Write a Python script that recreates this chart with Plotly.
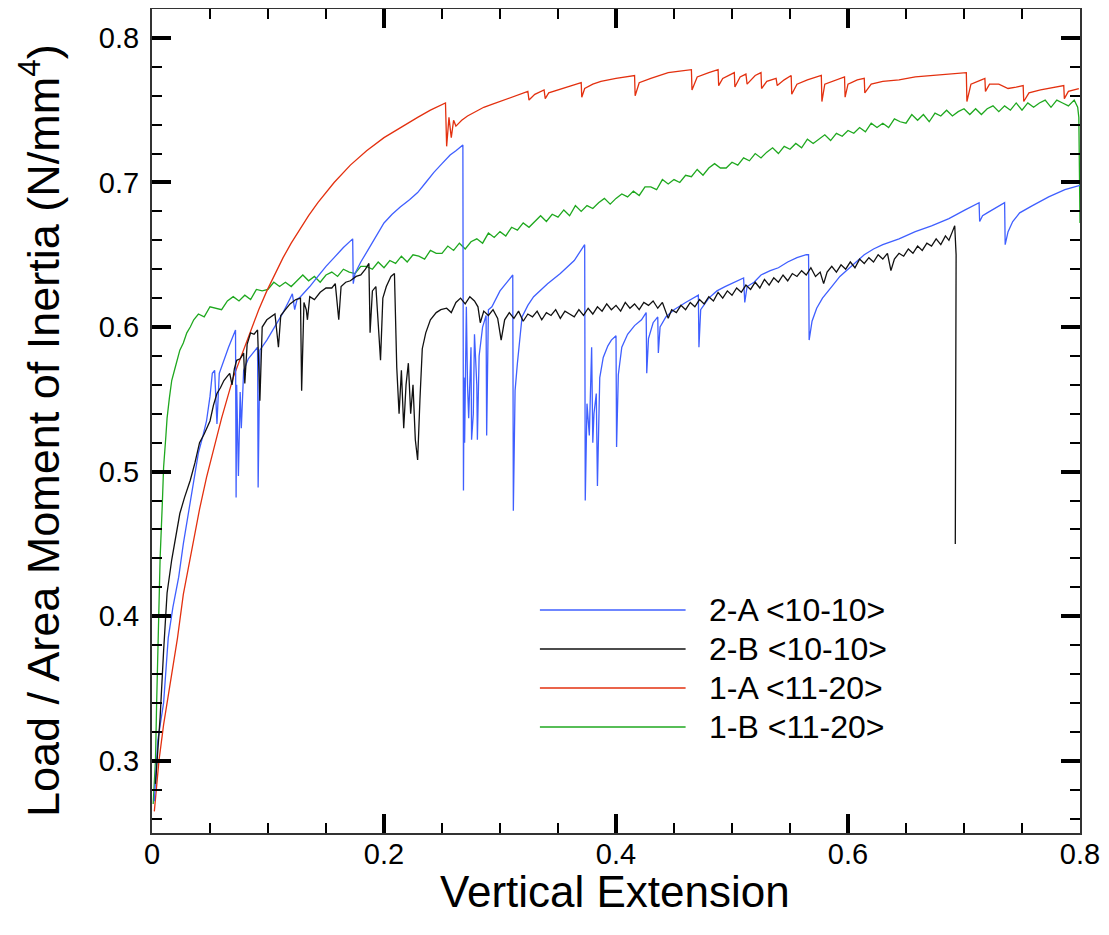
import plotly.graph_objects as go

# ---------------- data ----------------
names = ["2-A <10-10>", "2-B <10-10>", "1-A <11-20>", "1-B <11-20>"]
colors = ["#3f5fff", "#111111", "#e3300f", "#1fa81f"]

blue_x = [0.002, 0.005, 0.010, 0.014, 0.018, 0.023, 0.027, 0.033, 0.040, 0.044, 0.047, 0.050, 0.052, 0.054,
          0.056, 0.058, 0.061, 0.066, 0.072, 0.0725, 0.073, 0.0745, 0.076, 0.077, 0.079, 0.083, 0.088, 0.091,
          0.0915, 0.093, 0.099, 0.108, 0.113, 0.118, 0.121, 0.123, 0.125, 0.128, 0.136, 0.143, 0.150, 0.157,
          0.165, 0.173, 0.1735, 0.175, 0.180, 0.186, 0.193, 0.200, 0.207, 0.214, 0.222, 0.229, 0.236, 0.243,
          0.250, 0.257, 0.262, 0.268, 0.2685, 0.269, 0.2695, 0.271, 0.272, 0.273, 0.275, 0.2755, 0.277, 0.278,
          0.280, 0.2805, 0.282, 0.285, 0.288, 0.2885, 0.290, 0.293, 0.300, 0.306, 0.311, 0.3115, 0.313, 0.315,
          0.319, 0.324, 0.329, 0.341, 0.352, 0.364, 0.373, 0.3735, 0.375, 0.377, 0.379, 0.380, 0.381, 0.383,
          0.384, 0.386, 0.389, 0.393, 0.396, 0.400, 0.4005, 0.402, 0.405, 0.410, 0.416, 0.422, 0.426, 0.4265,
          0.428, 0.432, 0.436, 0.4365, 0.438, 0.443, 0.450, 0.460, 0.468, 0.471, 0.4715, 0.473, 0.480, 0.487,
          0.494, 0.505, 0.510, 0.511, 0.513, 0.519, 0.525, 0.533, 0.540, 0.548, 0.556, 0.564, 0.566, 0.5665,
          0.569, 0.573, 0.578, 0.586, 0.593, 0.600, 0.607, 0.614, 0.622, 0.630, 0.644, 0.658, 0.672, 0.687,
          0.701, 0.713, 0.7135, 0.716, 0.720, 0.728, 0.735, 0.7355, 0.738, 0.742, 0.748, 0.759, 0.773, 0.787,
          0.800]
blue_y = [0.272, 0.314, 0.340, 0.385, 0.406, 0.427, 0.450, 0.480, 0.513, 0.525, 0.535, 0.552, 0.568, 0.570,
          0.533, 0.568, 0.575, 0.586, 0.598, 0.482, 0.560, 0.497, 0.555, 0.530, 0.570, 0.578, 0.583, 0.586,
          0.489, 0.584, 0.591, 0.603, 0.610, 0.618, 0.623, 0.612, 0.619, 0.621, 0.628, 0.635, 0.642, 0.648,
          0.655, 0.661, 0.630, 0.637, 0.645, 0.653, 0.663, 0.672, 0.678, 0.683, 0.688, 0.693, 0.700, 0.707,
          0.713, 0.719, 0.722, 0.726, 0.487, 0.565, 0.520, 0.614, 0.560, 0.537, 0.586, 0.522, 0.540, 0.595,
          0.560, 0.522, 0.580, 0.600, 0.608, 0.525, 0.612, 0.614, 0.625, 0.631, 0.636, 0.473, 0.556, 0.575,
          0.607, 0.615, 0.621, 0.630, 0.637, 0.646, 0.657, 0.480, 0.547, 0.525, 0.586, 0.520, 0.540, 0.554,
          0.490, 0.565, 0.579, 0.587, 0.591, 0.594, 0.517, 0.567, 0.586, 0.595, 0.601, 0.605, 0.610, 0.568,
          0.592, 0.603, 0.607, 0.582, 0.600, 0.607, 0.612, 0.617, 0.621, 0.622, 0.586, 0.612, 0.620, 0.625,
          0.628, 0.632, 0.634, 0.617, 0.628, 0.631, 0.636, 0.639, 0.641, 0.645, 0.648, 0.650, 0.650, 0.591,
          0.604, 0.613, 0.620, 0.628, 0.635, 0.640, 0.645, 0.650, 0.654, 0.657, 0.661, 0.666, 0.670, 0.675,
          0.681, 0.686, 0.673, 0.677, 0.679, 0.683, 0.686, 0.657, 0.666, 0.673, 0.679, 0.684, 0.690, 0.695,
          0.698]

black_x = [0.003, 0.007, 0.010, 0.013, 0.017, 0.020, 0.024, 0.028, 0.033, 0.037, 0.041, 0.045, 0.050, 0.053,
           0.056, 0.059, 0.062, 0.065, 0.067, 0.069, 0.071, 0.073, 0.076, 0.079, 0.080, 0.082, 0.085, 0.088,
           0.091, 0.093, 0.095, 0.099, 0.103, 0.106, 0.109, 0.111, 0.115, 0.119, 0.124, 0.128, 0.129, 0.131,
           0.133, 0.134, 0.136, 0.140, 0.145, 0.150, 0.155, 0.158, 0.161, 0.163, 0.167, 0.171, 0.176, 0.180,
           0.184, 0.187, 0.188, 0.190, 0.193, 0.195, 0.197, 0.199, 0.202, 0.206, 0.209, 0.211, 0.213, 0.215,
           0.217, 0.219, 0.221, 0.223, 0.225, 0.227, 0.229, 0.231, 0.233, 0.236, 0.240, 0.245, 0.249,
           0.254, 0.258, 0.262, 0.266, 0.270, 0.274, 0.278, 0.281, 0.283, 0.286, 0.290, 0.294, 0.298, 0.301,
           0.304, 0.308, 0.312, 0.316, 0.320, 0.324, 0.328, 0.332, 0.336, 0.340, 0.344, 0.348, 0.352, 0.356,
           0.360, 0.364, 0.368, 0.372, 0.376, 0.380, 0.384, 0.388, 0.392, 0.396, 0.400, 0.404, 0.408, 0.412,
           0.416, 0.420, 0.424, 0.428, 0.432, 0.436, 0.440, 0.443, 0.445, 0.448, 0.452, 0.456, 0.460, 0.464,
           0.468, 0.472, 0.476, 0.480, 0.484, 0.488, 0.492, 0.496, 0.500, 0.504, 0.508, 0.512, 0.516, 0.520,
           0.524, 0.528, 0.532, 0.536, 0.540, 0.544, 0.548, 0.552, 0.556, 0.560, 0.564, 0.568, 0.572, 0.576,
           0.579, 0.582, 0.586, 0.590, 0.594, 0.598, 0.602, 0.606, 0.610, 0.614, 0.618, 0.622, 0.626, 0.630,
           0.634, 0.637, 0.640, 0.644, 0.648, 0.652, 0.656, 0.660, 0.664, 0.668, 0.672, 0.676, 0.680, 0.684,
           0.687, 0.690, 0.692, 0.6932, 0.6928, 0.6925]
black_y = [0.284, 0.330, 0.376, 0.416, 0.439, 0.454, 0.471, 0.482, 0.494, 0.506, 0.520, 0.526, 0.535, 0.546,
           0.554, 0.558, 0.563, 0.566, 0.568, 0.560, 0.571, 0.577, 0.578, 0.582, 0.561, 0.588, 0.596, 0.595,
           0.598, 0.549, 0.600, 0.605, 0.607, 0.609, 0.586, 0.608, 0.612, 0.616, 0.619, 0.620, 0.556, 0.617,
           0.612, 0.605, 0.621, 0.619, 0.624, 0.627, 0.627, 0.630, 0.605, 0.628, 0.631, 0.632, 0.635, 0.636,
           0.640, 0.644, 0.596, 0.625, 0.628, 0.600, 0.577, 0.620, 0.628, 0.635, 0.637, 0.572, 0.540, 0.570,
           0.530, 0.560, 0.575, 0.540, 0.560, 0.522, 0.508, 0.550, 0.585, 0.596, 0.605, 0.610, 0.612,
           0.613, 0.610, 0.617, 0.620, 0.616, 0.621, 0.618, 0.614, 0.603, 0.611, 0.608, 0.612, 0.606, 0.591,
           0.605, 0.610, 0.606, 0.611, 0.604, 0.609, 0.607, 0.611, 0.605, 0.610, 0.608, 0.612, 0.606, 0.611,
           0.609, 0.607, 0.612, 0.608, 0.613, 0.609, 0.614, 0.611, 0.616, 0.612, 0.615, 0.611, 0.617, 0.613,
           0.616, 0.612, 0.617, 0.615, 0.618, 0.613, 0.617, 0.610, 0.606, 0.612, 0.610, 0.615, 0.612, 0.617,
           0.614, 0.619, 0.616, 0.621, 0.618, 0.624, 0.620, 0.625, 0.622, 0.627, 0.624, 0.629, 0.626, 0.631,
           0.627, 0.633, 0.629, 0.634, 0.631, 0.636, 0.632, 0.637, 0.635, 0.639, 0.636, 0.641, 0.635, 0.638,
           0.630, 0.638, 0.642, 0.638, 0.643, 0.640, 0.645, 0.641, 0.647, 0.644, 0.648, 0.645, 0.650, 0.647,
           0.651, 0.639, 0.647, 0.651, 0.649, 0.654, 0.651, 0.656, 0.653, 0.658, 0.656, 0.661, 0.657, 0.663,
           0.660, 0.666, 0.670, 0.650, 0.580, 0.450]

red_x = [0.002, 0.006, 0.010, 0.013, 0.017, 0.022, 0.027, 0.035, 0.041, 0.047, 0.053, 0.060, 0.070, 0.078,
         0.085, 0.092, 0.099, 0.106, 0.113, 0.120, 0.128, 0.135, 0.143, 0.157, 0.171, 0.185, 0.200, 0.214,
         0.229, 0.240, 0.251, 0.253, 0.254, 0.256, 0.258, 0.260, 0.262, 0.267, 0.272, 0.279, 0.286, 0.293,
         0.300, 0.310, 0.320, 0.324, 0.325, 0.330, 0.338, 0.339, 0.342, 0.350, 0.358, 0.364, 0.370, 0.3705,
         0.373, 0.380, 0.387, 0.400, 0.416, 0.4165, 0.420, 0.430, 0.445, 0.455, 0.465, 0.4655, 0.470, 0.480,
         0.488, 0.4885, 0.492, 0.502, 0.5025, 0.507, 0.512, 0.513, 0.520, 0.525, 0.5255, 0.530, 0.538, 0.539,
         0.545, 0.551, 0.5515, 0.556, 0.565, 0.577, 0.5775, 0.580, 0.590, 0.597, 0.5975, 0.600, 0.608, 0.614,
         0.6145, 0.620, 0.630, 0.644, 0.658, 0.672, 0.687, 0.702, 0.7025, 0.706, 0.715, 0.718, 0.7185, 0.722,
         0.730, 0.738, 0.745, 0.751, 0.7515, 0.756, 0.766, 0.773, 0.780, 0.786, 0.7865, 0.790, 0.799]
red_y = [0.265, 0.300, 0.325, 0.340, 0.360, 0.385, 0.415, 0.448, 0.474, 0.496, 0.515, 0.537, 0.565, 0.582,
         0.597, 0.612, 0.625, 0.637, 0.648, 0.658, 0.668, 0.677, 0.686, 0.700, 0.712, 0.722, 0.731, 0.738,
         0.745, 0.750, 0.754, 0.755, 0.725, 0.745, 0.731, 0.743, 0.739, 0.743, 0.746, 0.749, 0.752, 0.754,
         0.756, 0.759, 0.762, 0.763, 0.757, 0.761, 0.764, 0.758, 0.762, 0.764, 0.766, 0.768, 0.769, 0.759,
         0.765, 0.768, 0.770, 0.772, 0.774, 0.760, 0.769, 0.772, 0.776, 0.777, 0.778, 0.764, 0.773, 0.776,
         0.778, 0.767, 0.772, 0.776, 0.766, 0.773, 0.775, 0.768, 0.774, 0.776, 0.765, 0.770, 0.772, 0.767,
         0.771, 0.774, 0.761, 0.768, 0.771, 0.774, 0.756, 0.768, 0.771, 0.773, 0.759, 0.768, 0.771, 0.772,
         0.762, 0.768, 0.770, 0.771, 0.773, 0.774, 0.775, 0.776, 0.756, 0.768, 0.771, 0.772, 0.763, 0.768,
         0.768, 0.765, 0.766, 0.767, 0.756, 0.762, 0.764, 0.765, 0.766, 0.767, 0.758, 0.763, 0.765]

green_x = [0.001, 0.003, 0.004, 0.005, 0.006, 0.007, 0.009, 0.010, 0.012, 0.013, 0.015, 0.017, 0.020, 0.022,
           0.024, 0.027, 0.030, 0.033, 0.036,
           0.040, 0.045, 0.050, 0.055, 0.060, 0.065, 0.070, 0.075, 0.080, 0.085, 0.090, 0.095, 0.100,
           0.105, 0.110, 0.115, 0.120, 0.125, 0.130, 0.135, 0.140, 0.145, 0.150, 0.155, 0.160, 0.165, 0.170,
           0.175, 0.180, 0.185, 0.190, 0.195, 0.200, 0.205, 0.210, 0.215, 0.220, 0.225, 0.230, 0.235, 0.240,
           0.245, 0.250, 0.255, 0.260, 0.265, 0.270, 0.275, 0.280, 0.285, 0.290, 0.295, 0.300, 0.305, 0.310,
           0.315, 0.320, 0.325, 0.330, 0.335, 0.340, 0.345, 0.350, 0.355, 0.360, 0.365, 0.370, 0.375, 0.380,
           0.385, 0.390, 0.395, 0.400, 0.405, 0.410, 0.415, 0.420, 0.425, 0.430, 0.435, 0.440, 0.445, 0.450,
           0.455, 0.460, 0.465, 0.470, 0.475, 0.480, 0.485, 0.490, 0.495, 0.500, 0.505, 0.510, 0.515, 0.520,
           0.525, 0.530, 0.535, 0.540, 0.545, 0.550, 0.555, 0.560, 0.565, 0.570, 0.575, 0.580, 0.585, 0.590,
           0.595, 0.600, 0.605, 0.610, 0.615, 0.620, 0.625, 0.630, 0.635, 0.640, 0.645, 0.650, 0.655, 0.660,
           0.665, 0.670, 0.675, 0.680, 0.685, 0.690, 0.695, 0.700, 0.705, 0.710, 0.715, 0.720, 0.725, 0.730,
           0.735, 0.740, 0.745, 0.750, 0.755, 0.760, 0.765, 0.770, 0.775, 0.780, 0.785, 0.790, 0.795, 0.798,
           0.799, 0.7995, 0.800, 0.7998, 0.800]
green_y = [0.270, 0.300, 0.340, 0.370, 0.400, 0.440, 0.480, 0.503, 0.525, 0.537, 0.551, 0.563, 0.572, 0.578,
           0.584, 0.589, 0.596, 0.600, 0.605,
           0.609, 0.607, 0.614, 0.613, 0.612, 0.618, 0.621, 0.618, 0.622, 0.619, 0.626, 0.625, 0.626,
           0.631, 0.628, 0.631, 0.628, 0.632, 0.636, 0.632, 0.635, 0.631, 0.636, 0.638, 0.635, 0.640, 0.638,
           0.637, 0.642, 0.642, 0.640, 0.645, 0.641, 0.646, 0.644, 0.649, 0.645, 0.650, 0.649, 0.647, 0.653,
           0.651, 0.651, 0.656, 0.653, 0.658, 0.654, 0.659, 0.661, 0.658, 0.665, 0.662, 0.666, 0.663, 0.669,
           0.667, 0.672, 0.669, 0.673, 0.677, 0.673, 0.678, 0.676, 0.681, 0.677, 0.684, 0.680, 0.684, 0.682,
           0.686, 0.689, 0.685, 0.689, 0.692, 0.690, 0.694, 0.691, 0.697, 0.697, 0.695, 0.702, 0.699, 0.702,
           0.700, 0.705, 0.704, 0.709, 0.705, 0.710, 0.713, 0.710, 0.710, 0.714, 0.712, 0.717, 0.715, 0.720,
           0.717, 0.721, 0.724, 0.720, 0.725, 0.723, 0.727, 0.724, 0.730, 0.727, 0.730, 0.733, 0.729, 0.734,
           0.732, 0.736, 0.734, 0.738, 0.735, 0.741, 0.738, 0.741, 0.738, 0.744, 0.742, 0.741, 0.747, 0.743,
           0.747, 0.742, 0.748, 0.746, 0.750, 0.746, 0.749, 0.751, 0.747, 0.751, 0.747, 0.751, 0.753, 0.749,
           0.753, 0.750, 0.755, 0.750, 0.755, 0.752, 0.755, 0.757, 0.752, 0.757, 0.755, 0.753, 0.757, 0.752,
           0.745, 0.705, 0.672, 0.695, 0.700]

x_tick_vals = [0, 0.2, 0.4, 0.6, 0.8]
x_tick_text = ["0", "0.2", "0.4", "0.6", "0.8"]
y_tick_vals = [0.3, 0.4, 0.5, 0.6, 0.7, 0.8]
y_tick_text = ["0.3", "0.4", "0.5", "0.6", "0.7", "0.8"]

x_title = "Vertical Extension"
y_title = "Load / Area Moment of Inertia (N/mm<sup>4</sup>)"

# ---------------- figure ----------------
series = [(blue_x, blue_y), (black_x, black_y), (red_x, red_y), (green_x, green_y)]
draw_order = [3, 2, 0, 1]  # green, red, blue, black on top

fig = go.Figure()
for i in draw_order:
    sx, sy = series[i]
    fig.add_trace(go.Scatter(x=sx, y=sy, mode="lines", name=names[i],
                             line=dict(color=colors[i], width=1.3), showlegend=False))

FONT = "Liberation Sans, Arial, Helvetica, sans-serif"

axis_common = dict(
    showline=True, linecolor="#333333", linewidth=2, mirror="ticks",
    ticks="inside", tickcolor="#000000", showgrid=False, zeroline=False,
    tickfont=dict(family=FONT, size=29, color="#000000"),
)

fig.update_xaxes(range=[0, 0.8], tickvals=x_tick_vals, ticktext=x_tick_text,
                 ticklen=19, tickwidth=4, ticklabelstandoff=-6,
                 minor=dict(dtick=0.05, tick0=0, ticks="inside", ticklen=10, tickwidth=2, tickcolor="#000000"),
                 **axis_common)
fig.update_yaxes(range=[0.25, 0.82], tickvals=y_tick_vals, ticktext=y_tick_text,
                 ticklen=19, tickwidth=4, ticklabelstandoff=5,
                 minor=dict(dtick=0.02, tick0=0.3, ticks="inside", ticklen=10, tickwidth=2, tickcolor="#000000"),
                 **axis_common)

# axis titles placed as annotations for exact positioning
fig.add_annotation(xref="paper", yref="paper", x=0.5, y=0, xanchor="center", yanchor="middle",
                   xshift=-1, yshift=-58, text=x_title, showarrow=False,
                   font=dict(family=FONT, size=44, color="#000000"))
fig.add_annotation(xref="paper", yref="paper", x=0, y=0.5, xanchor="center", yanchor="middle",
                   xshift=-112, yshift=-10, text=y_title, textangle=-90, showarrow=False,
                   font=dict(family=FONT, size=45, color="#000000"))

# manual legend (long sample lines like the reference)
leg_y = [0.2706, 0.2233, 0.1760, 0.1286]
for k in range(4):
    fig.add_shape(type="line", xref="paper", yref="paper", x0=0.418, x1=0.575,
                  y0=leg_y[k], y1=leg_y[k], line=dict(color=colors[k], width=1.5))
    fig.add_annotation(xref="paper", yref="paper", x=0.598, y=leg_y[k],
                       text=names[k].replace("<", "&lt;").replace(">", "&gt;"),
                       showarrow=False, xanchor="left", yanchor="middle",
                       font=dict(family=FONT, size=32, color="#000000"))

# the page has an 8px body margin, so the figure is sized/offset to land on the reference pixels
fig.update_layout(
    width=1093, height=919,
    margin=dict(l=144, r=21, t=1, b=94, autoexpand=False),
    paper_bgcolor="white", plot_bgcolor="white",
    showlegend=False,
)

fig.write_html("out.html")
